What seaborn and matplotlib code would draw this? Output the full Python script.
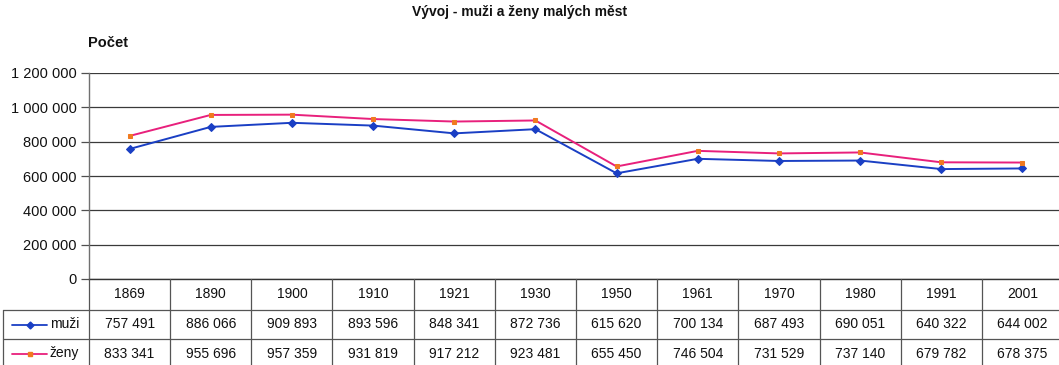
import matplotlib
matplotlib.use("Agg")
import matplotlib.pyplot as plt
from matplotlib.ticker import FuncFormatter, MultipleLocator
import seaborn as sns
import pandas as pd

years = ["1869", "1890", "1900", "1910", "1921", "1930",
         "1950", "1961", "1970", "1980", "1991", "2001"]
muzi = [757491, 886066, 909893, 893596, 848341, 872736,
        615620, 700134, 687493, 690051, 640322, 644002]
zeny = [833341, 955696, 957359, 931819, 917212, 923481,
        655450, 746504, 731529, 737140, 679782, 678375]
series_names = ["muži", "ženy"]

title = "Vývoj - muži a ženy malých měst"
ylabel = "Počet"

sns.set_theme(style="white")
plt.rcParams["font.family"] = ["Liberation Sans", "DejaVu Sans"]

W, H = 1059, 365
fig = plt.figure(figsize=(W / 100, H / 100), dpi=100)
fig.patch.set_facecolor("white")

# plot area in pixel geometry
left_px, right_px, top_px, bottom_px = 89, 1063, 73, 279
ax = fig.add_axes([left_px / W, (H - bottom_px) / H,
                   (right_px - left_px) / W, (bottom_px - top_px) / H])

pos = list(range(len(years)))
df = pd.DataFrame({"pos": pos, "muži": muzi, "ženy": zeny})

blue = "#1a3fc4"
pink = "#e8207c"
orange = "#f07a20"

sns.lineplot(data=df, x="pos", y="muži", ax=ax, color=blue, lw=1.4,
             marker="D", markersize=4, mfc=blue, mec=blue, zorder=4)
sns.lineplot(data=df, x="pos", y="ženy", ax=ax, color=pink, lw=1.4,
             marker="s", markersize=3, mfc=orange, mec=orange, zorder=4)

ax.set_xlim(-0.5, len(years) - 0.5)
ax.set_ylim(0, 1200000)
ax.yaxis.set_major_locator(MultipleLocator(200000))
ax.yaxis.set_major_formatter(FuncFormatter(lambda v, p: f"{int(v):,}".replace(",", " ")))
ax.set_xticks([])
ax.set_xlabel("")
ax.set_ylabel("")
ax.grid(axis="y", color="#3a3a3a", lw=0.9)
ax.set_axisbelow(True)
for s in ["top", "right"]:
    ax.spines[s].set_visible(False)
ax.spines["bottom"].set_color("#333333")
ax.spines["bottom"].set_linewidth(1.0)
ax.spines["left"].set_color("#707070")
ax.spines["left"].set_linewidth(1.0)
ax.tick_params(axis="y", left=True, length=6, width=0.9, color="#505050",
               labelsize=10.5, labelcolor="#111111", pad=3)

fig.text(520 / W, 1 - 12 / H, title, ha="center", va="center",
         fontsize=10, fontweight="bold", color="#111111")
fig.text(88 / W, 1 - 43 / H, ylabel, ha="left", va="center",
         fontsize=10.5, fontweight="bold", color="#111111")

# data table below the plot
tab_left_px = 3
col_w = (right_px - left_px) / len(years)
x0 = -0.5 - (left_px - tab_left_px) / col_w
tab_bottom_px = 368
tax = fig.add_axes([tab_left_px / W, (H - tab_bottom_px) / H,
                    (right_px - tab_left_px) / W, (tab_bottom_px - bottom_px) / H])
tax.set_xlim(x0, len(years) - 0.5)
tax.set_ylim(tab_bottom_px - bottom_px, 0)
tax.axis("off")

row_edges = [0, 31, 60, 89]
lc = "#555555"
for y in row_edges[1:]:
    tax.plot([x0, len(years) - 0.5], [y, y], color=lc, lw=0.9, clip_on=False)
for k in range(len(years) + 1):
    tax.plot([k - 0.5, k - 0.5], [0, 89], color=lc, lw=0.9, clip_on=False)
tax.plot([x0, x0], [31, 89], color=lc, lw=0.9, clip_on=False)

fs = 10
for i, yr in enumerate(years):
    tax.text(i, 15.5, yr, ha="center", va="center", fontsize=fs, color="#111111")
    tax.text(i, 45.5, f"{muzi[i]:,}".replace(",", " "), ha="center", va="center",
             fontsize=fs, color="#111111")
    tax.text(i, 74.5, f"{zeny[i]:,}".replace(",", " "), ha="center", va="center",
             fontsize=fs, color="#111111")


def px_to_cat(px):
    return x0 + (px - tab_left_px) / col_w


key_styles = [(blue, blue, "D", 3.5), (pink, orange, "s", 2.5)]
for (lcol, mcol, mk, ms), name, yc in zip(key_styles, series_names, [45.5, 74.5]):
    tax.plot([px_to_cat(12), px_to_cat(47)], [yc, yc], color=lcol, lw=1.3)
    tax.plot([px_to_cat(29.5)], [yc], marker=mk, markersize=ms, color=mcol)
    tax.text(px_to_cat(50), yc, name, ha="left", va="center", fontsize=fs,
             color="#111111")

fig.savefig("out.png", dpi=100, facecolor="white")
